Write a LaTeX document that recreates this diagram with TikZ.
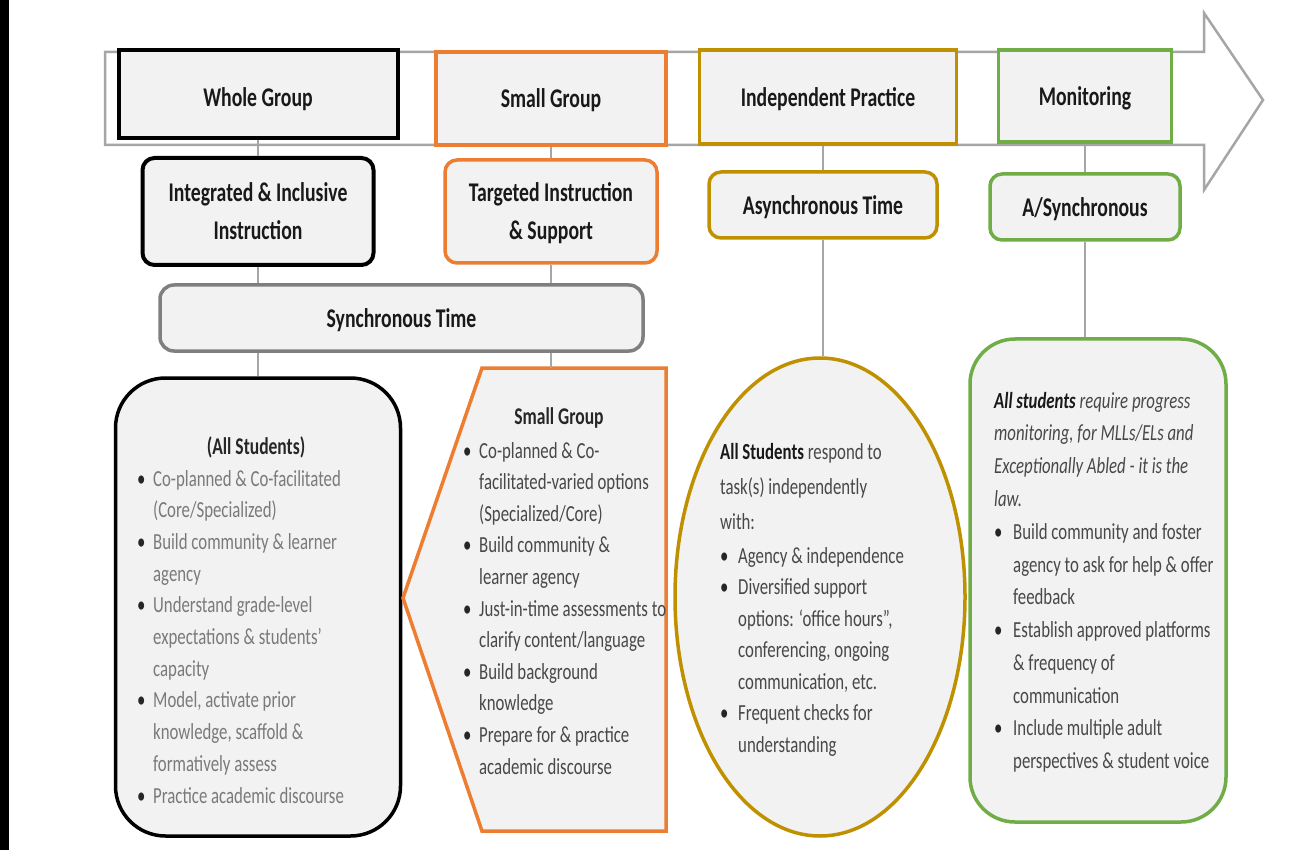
\documentclass[tikz,border=0pt]{standalone}
\usepackage{fontspec}
\setmainfont{Carlito}[FakeStretch=0.73]
\usetikzlibrary{shapes.geometric}
\definecolor{orng}{HTML}{ED7D31}
\definecolor{gold}{HTML}{BF9000}
\definecolor{grn}{HTML}{70AD47}
\definecolor{boxfill}{HTML}{F2F2F2}
\definecolor{linegray}{HTML}{A6A6A6}
\definecolor{syncgray}{HTML}{7F7F7F}
\definecolor{txtgray}{HTML}{7A7A7A}
\definecolor{txtdark}{HTML}{484848}
\newcommand{\hdrfont}{\fontsize{27}{38}\selectfont\bfseries}
\newcommand{\bul}[1][16pt]{\makebox[#1][l]{\textcolor{black!85}{\textbullet}}}
\begin{document}
\begin{tikzpicture}[x=1pt,y=-1pt,
  hbox/.style={draw, line width=3.5pt, fill=boxfill, inner sep=0pt, font=\hdrfont, text=black!90, align=center, text depth=0pt},
  rbox/.style={hbox, rounded corners=12pt},
  bigbox/.style={line width=3.5pt, fill=boxfill, inner sep=0pt},
  conn/.style={draw=linegray, line width=1.3pt},
  btext/.style={inner sep=0pt, anchor=base west}]
\useasboundingbox (0,0) rectangle (1304,850);
\fill[white] (0,0) rectangle (1304,850);
\fill[black] (0,0) rectangle (9,850);

% timeline arrow
\draw[draw=linegray, line width=2.5pt, fill=white] (105,52) -- (1204,52) -- (1204,13) -- (1263,100) -- (1204,190) -- (1204,145) -- (105,145) -- cycle;

% row 1
\node[hbox, draw=black, line width=4pt, minimum width=279pt, minimum height=88pt, text height=26pt] (wg) at (258,94) {Whole Group};
\node[hbox, draw=orng, minimum width=230pt, minimum height=93pt] (sg) at (551,98.5) {Small Group};
\node[hbox, draw=gold, minimum width=257pt, minimum height=94pt] (ip) at (828,97) {Independent Practice};
\node[hbox, draw=grn, minimum width=173pt, minimum height=92pt] (mon) at (1085,96) {Monitoring};

% row 2
\node[rbox, draw=black, line width=4pt, minimum width=231pt, minimum height=107pt] (ii) at (258,211.5) {Integrated \& Inclusive\\Instruction};
\node[rbox, draw=orng, minimum width=212pt, minimum height=103pt] (ti) at (551,211.5) {Targeted Instruction\\\& Support};
\node[rbox, draw=gold, minimum width=228pt, minimum height=66pt] (asy) at (823,205) {Asynchronous Time};
\node[rbox, draw=grn, minimum width=190pt, minimum height=66pt] (asm) at (1085,207) {A/Synchronous};
\node[rbox, draw=syncgray, rounded corners=14pt, minimum width=483pt, minimum height=66pt] (sync) at (401.5,318) {Synchronous Time};

% bottom shapes
\node[bigbox, draw=black, rounded corners=50pt, minimum width=285pt, minimum height=458pt] (ab) at (258,607) {};
\draw[draw=orng, line width=3.5pt, fill=boxfill] (403,598) -- (482,368) -- (666,368) -- (666,831) -- (482,831) -- cycle;
\coordinate (pt) at (551,368);
\node[bigbox, ellipse, draw=gold, minimum width=290pt, minimum height=478pt] (ell) at (820,597) {};
\node[bigbox, draw=grn, rounded corners=45pt, minimum width=256pt, minimum height=483pt] (gb) at (1098,580.5) {};

% connectors
\draw[conn] (wg.south) -- (ii.north);
\draw[conn] (sg.south) -- (ti.north);
\draw[conn] (ip.south -| asy.north) -- (asy.north);
\draw[conn] (mon.south) -- (asm.north);
\draw[conn] (ii.south) -- (ii.south |- sync.north);
\draw[conn] (ti.south) -- (ti.south |- sync.north);
\draw[conn] (ab.north |- sync.south) -- (ab.north);
\draw[conn] (pt |- sync.south) -- (pt);
\draw[conn] (asy.south) -- (asy.south |- ell.north);
\draw[conn] (asm.south) -- (asm.south |- gb.north);

% texts: All Students box
\node[inner sep=0pt, anchor=base, font=\fontsize{24}{32}\selectfont\bfseries, text=black!85] (t1h) at (256,454) {(All Students)};
\node[btext, text=txtgray, font=\fontsize{23}{31.7}\selectfont] (t1b) at (137,486) {\begin{tabular}[t]{@{}l@{}l@{}}
\bul & Co-planned \& Co-facilitated\\
 & (Core/Specialized)\\
\bul & Build community \& learner\\
 & agency\\
\bul & Understand grade-level\\
 & expectations \& students’\\
 & capacity\\
\bul & Model, activate prior\\
 & knowledge, scaffold \&\\
 & formatively assess\\
\bul & Practice academic discourse
\end{tabular}};

% texts: Small Group pentagon
\node[inner sep=0pt, anchor=base, font=\fontsize{24}{32}\selectfont\bfseries, text=black!85] (t2h) at (559,424) {Small Group};
\node[btext, text=txtdark, font=\fontsize{23}{31.6}\selectfont] (t2b) at (463,458) {\begin{tabular}[t]{@{}l@{}l@{}}
\bul & Co-planned \& Co-\\
 & facilitated-varied options\\
 & (Specialized/Core)\\
\bul & Build community \&\\
 & learner agency\\
\bul & Just-in-time assessments to\\
 & clarify content/language\\
\bul & Build background\\
 & knowledge\\
\bul & Prepare for \& practice\\
 & academic discourse
\end{tabular}};

% texts: ellipse
\node[btext, text=txtdark, font=\fontsize{23}{35}\selectfont] (t3a) at (720,459) {\begin{tabular}[t]{@{}l@{}}
\textcolor{black!90}{\bfseries All Students} respond to\\
task(s) independently\\
with:
\end{tabular}};
\node[btext, text=txtdark, font=\fontsize{23}{31.5}\selectfont] (t3b) at (720,563) {\begin{tabular}[t]{@{}l@{}l@{}}
\bul[18pt] & Agency \& independence\\
\bul[18pt] & Diversified support\\
 & options: ‘office hours”,\\
 & conferencing, ongoing\\
 & communication, etc.\\
\bul[18pt] & Frequent checks for\\
 & understanding
\end{tabular}};

% texts: green box
\node[btext, text=txtdark, font=\fontsize{23}{32.8}\selectfont] (t4) at (994,408) {\begin{tabular}[t]{@{}l@{}l@{}}
\multicolumn{2}{@{}l@{}}{\itshape\textcolor{black!90}{\bfseries All students} require progress}\\
\multicolumn{2}{@{}l@{}}{\itshape monitoring, for MLLs/ELs and}\\
\multicolumn{2}{@{}l@{}}{\itshape Exceptionally Abled - it is the}\\
\multicolumn{2}{@{}l@{}}{\itshape law.}\\
\bul[19pt] & Build community and foster\\
 & agency to ask for help \& offer\\
 & feedback\\
\bul[19pt] & Establish approved platforms\\
 & \& frequency of\\
 & communication\\
\bul[19pt] & Include multiple adult\\
 & perspectives \& student voice
\end{tabular}};
\end{tikzpicture}
\end{document}
